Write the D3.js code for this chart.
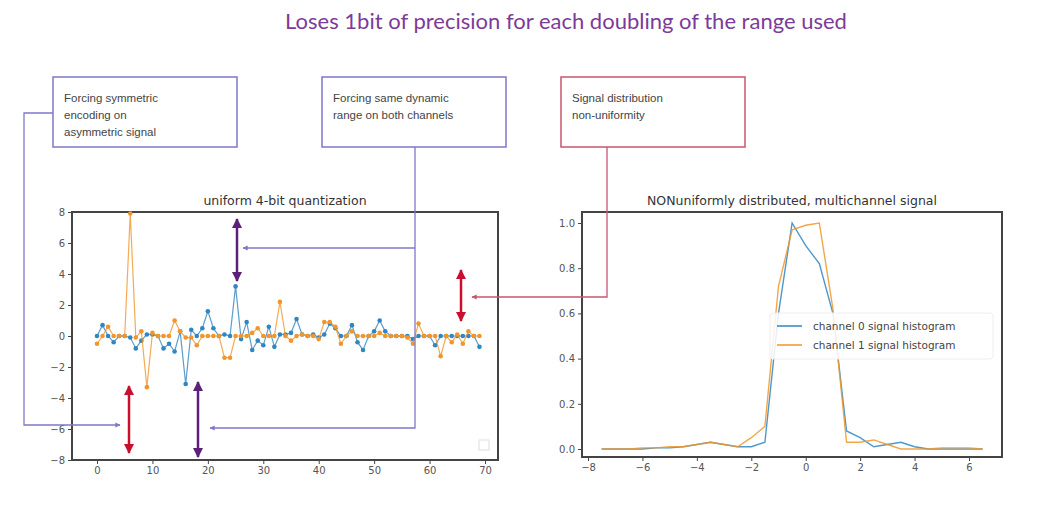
<!DOCTYPE html>
<html><head><meta charset="utf-8">
<script src="https://cdn.jsdelivr.net/npm/d3@7"></script>
<style>body{margin:0;background:#fff}text{font-family:"DejaVu Sans",sans-serif}</style>
</head><body><div id="chart"></div>
<script>
// left panel: quantized samples, two channels
const ch0 = [0,0.7,0,-0.4,0,0,-0.1,-0.8,-0.3,0.1,0.1,0,-0.8,-0.5,-1,0.3,-3.1,0.4,0,0.5,1.6,0.5,0,0.1,0,3.2,-0.2,0.9,-0.9,-0.3,
  -0.6,0.6,-0.7,0.1,0.1,0.2,1.1,0.1,0,0.1,-0.1,0.1,0.8,0.5,0,0,0.7,-0.4,-0.9,0,0.3,1.0,0.3,0,0,0,0,-0.2,0,0,0,-0.6,0,0,0,0,0,0,0,-0.7];
const ch1 = [-0.5,0,0.6,0,0,0,7.9,-0.1,0.3,-3.3,0.2,0,0,0,1.0,0.3,-0.1,-0.1,-0.6,0,0,0,0,-1.4,-1.4,0,0,0,0.2,0.5,
  0,0,0,2.2,0,-0.3,0,0.1,0,0,-0.2,0.9,0.9,0.6,-0.5,0,0.3,0,0,0,0,0.2,0,0,0,0,-0.1,-0.5,0.8,0,0,0,-1.3,0,-0.4,0.1,-0.5,0.3,0,0];
const leftXTicks = [0,10,20,30,40,50,60,70];
const leftYTicks = [-8,-6,-4,-2,0,2,4,6,8];

// right panel: histograms
const histX = [-7.5,-7,-6.5,-6,-5.5,-5,-4.5,-4,-3.5,-3,-2.5,-2,-1.5,-1,-0.5,0,0.5,1,1.5,2,2.5,3,3.5,4,4.5,5,5.5,6,6.5];
const hist0 = [0,0,0,0,0.005,0.005,0.01,0.02,0.03,0.02,0.01,0.01,0.03,0.6,1.0,0.9,0.82,0.6,0.08,0.05,0.01,0.02,0.03,0.01,0,0,0,0,0];
const hist1 = [0,0,0,0.005,0.005,0.01,0.01,0.02,0.03,0.02,0.01,0.05,0.1,0.72,0.97,0.99,1.0,0.62,0.03,0.03,0.04,0.02,0,0,0,0.005,0.005,0.005,0];
const rightXTicks = [-8,-6,-4,-2,0,2,4,6];
const rightYTicks = [0,0.2,0.4,0.6,0.8,1.0];
const legendLabels = ["channel 0 signal histogram","channel 1 signal histogram"];

const notes = [
  {lines:["Forcing symmetric","encoding on","asymmetric signal"], x:53, color:"#7f78c9"},
  {lines:["Forcing same dynamic","range on both channels"], x:322, color:"#7f78c9"},
  {lines:["Signal distribution","non-uniformity"], x:561, color:"#c8566f"}
];

const W = 1050, H = 509;
const blue = "#2f86c0", orange = "#f0962a", purple = "#5c1f7a", red = "#c8102e";
const svg = d3.select("#chart").append("svg").attr("width", W).attr("height", H);

svg.append("text").attr("x", 566).attr("y", 29).attr("text-anchor", "middle")
  .style("font-family", "Lato, sans-serif").style("font-size", "22px").style("fill", "#7d3b98")
  .text("Loses 1bit of precision for each doubling of the range used");

function panel(x0, x1, y0, y1, xs, ys, xt, yt, fmt, title) {
  const g = svg.append("g");
  g.append("rect").attr("x", x0).attr("y", y0).attr("width", x1 - x0).attr("height", y1 - y0)
    .attr("fill", "none").attr("stroke", "#444").attr("stroke-width", 2);
  g.append("g").attr("transform", `translate(0,${y1})`)
    .call(d3.axisBottom(xs).tickValues(xt).tickSize(4).tickFormat(d => String(d).replace("-", "\u2212")))
    .call(a => a.select(".domain").remove());
  g.append("g").attr("transform", `translate(${x0},0)`)
    .call(d3.axisLeft(ys).tickValues(yt).tickSize(4).tickFormat(fmt))
    .call(a => a.select(".domain").remove());
  g.selectAll(".tick text").style("font-size", "10px").style("fill", "#555");
  g.selectAll(".tick line").attr("stroke", "#444");
  g.append("text").attr("x", (x0 + x1) / 2).attr("y", y0 - 7).attr("text-anchor", "middle")
    .style("font-size", "12.5px").style("fill", "#333").text(title);
  return g;
}

// left chart
const lx = d3.scaleLinear().domain([0, 70]).range([97, 485]);
const ly = d3.scaleLinear().domain([-8, 8]).range([460, 212]);
const lg = panel(72, 498, 212, 460, lx, ly, leftXTicks, leftYTicks, d => String(d).replace("-", "\u2212"), "uniform 4-bit quantization");
[[ch0, blue], [ch1, orange]].forEach(([s, c]) => {
  lg.append("path").datum(s).attr("fill", "none").attr("stroke", c).attr("stroke-width", 1.2).attr("opacity", 0.8)
    .attr("d", d3.line().x((d, i) => lx(i)).y(d => ly(Math.max(-8, Math.min(8, d)))));
  lg.selectAll(null).data(s).join("circle").attr("cx", (d, i) => lx(i)).attr("cy", d => ly(d))
    .attr("r", 2.3).attr("fill", c);
});
lg.append("rect").attr("x", 479).attr("y", 440).attr("width", 10).attr("height", 10)
  .attr("fill", "none").attr("stroke", "#ddd");

// right chart
const rx = d3.scaleLinear().domain([-8, 6]).range([588, 969]);
const ry = d3.scaleLinear().domain([0, 1]).range([449, 223]);
const rg = panel(582, 1002, 212, 457, rx, ry, rightXTicks, rightYTicks, d3.format(".1f"), "NONuniformly distributed, multichannel signal");
[[hist0, blue], [hist1, orange]].forEach(([s, c]) => {
  rg.append("path").datum(s).attr("fill", "none").attr("stroke", c).attr("stroke-width", 1.4).attr("opacity", 0.85)
    .attr("d", d3.line().x((d, i) => rx(histX[i])).y(d => ry(d)));
});
const leg = rg.append("g");
leg.append("rect").attr("x", 770).attr("y", 313).attr("width", 223).attr("height", 46).attr("rx", 3)
  .attr("fill", "#fff").attr("fill-opacity", 0.85).attr("stroke", "#eee");
legendLabels.forEach((t, i) => {
  const y = 326 + i * 19;
  leg.append("line").attr("x1", 777).attr("x2", 802).attr("y1", y).attr("y2", y)
    .attr("stroke", i ? orange : blue).attr("stroke-width", 1.5);
  leg.append("text").attr("x", 813).attr("y", y + 4).style("font-size", "10.5px").style("fill", "#444").text(t);
});

// annotation boxes
notes.forEach(n => {
  svg.append("rect").attr("x", n.x).attr("y", 77).attr("width", 184).attr("height", 70)
    .attr("fill", "#fff").attr("stroke", n.color).attr("stroke-width", 1.5);
  n.lines.forEach((l, i) => svg.append("text").attr("x", n.x + 11).attr("y", 102 + i * 17)
    .style("font-family", "'Liberation Sans', sans-serif").style("font-size", "11.5px").style("fill", "#444").text(l));
});

const defs = svg.append("defs");
function marker(id, c, size) {
  defs.append("marker").attr("id", id).attr("viewBox", "0 0 10 10").attr("refX", 9).attr("refY", 5)
    .attr("markerWidth", size).attr("markerHeight", size).attr("orient", "auto-start-reverse")
    .append("path").attr("d", "M0,0L10,5L0,10z").attr("fill", c);
}
marker("mb", "#7f78c9", 4); marker("mr", "#c8566f", 4);
marker("mp", purple, 4); marker("mrd", red, 4);

function conn(pts, c, m) {
  svg.append("path").attr("d", d3.line()(pts)).attr("fill", "none").attr("stroke", c).attr("stroke-width", 1.3)
    .attr("marker-end", `url(#${m})`);
}
conn([[53, 113], [24, 113], [24, 425], [120, 425]], "#7f78c9", "mb");
conn([[415, 147], [415, 428], [210, 428]], "#7f78c9", "mb");
conn([[415, 248], [243, 248]], "#7f78c9", "mb");
conn([[607, 147], [607, 297], [472, 297]], "#c8566f", "mr");

function dbl(x, y1, y2, c, m) {
  svg.append("line").attr("x1", x).attr("x2", x).attr("y1", y1).attr("y2", y2).attr("stroke", c).attr("stroke-width", 2.5)
    .attr("marker-start", `url(#${m})`).attr("marker-end", `url(#${m})`);
}
dbl(237, 219, 281, purple, "mp");
dbl(198, 382, 457, purple, "mp");
dbl(129, 386, 453, red, "mrd");
dbl(461, 270, 321, red, "mrd");
</script></body></html>
